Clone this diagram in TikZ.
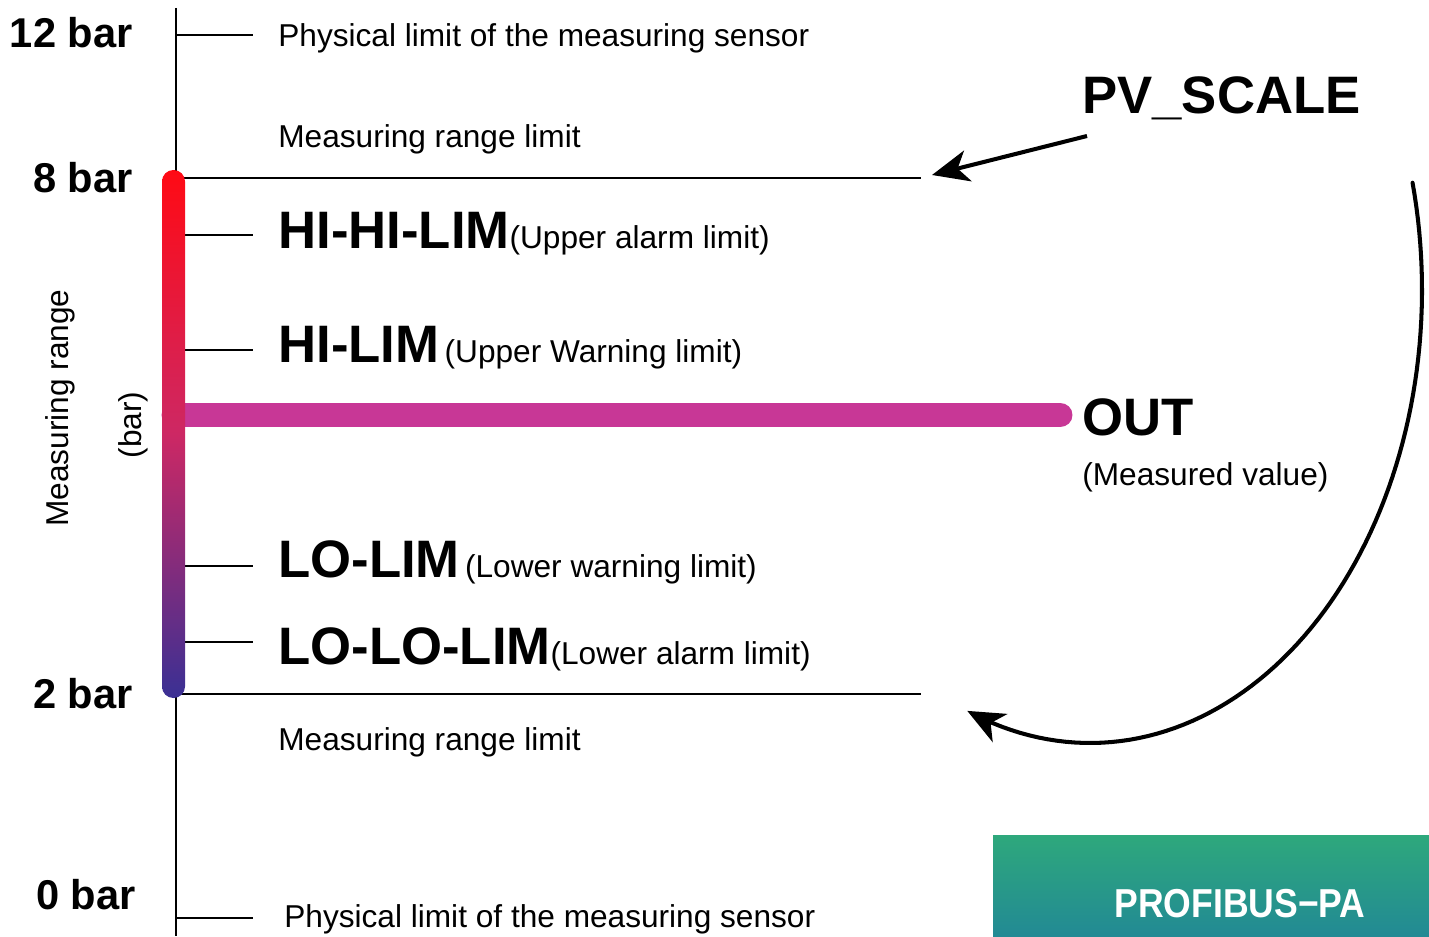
\documentclass[tikz,border=0pt]{standalone}
\usepackage{fontspec}
\setmainfont{Liberation Sans}
\usetikzlibrary{arrows.meta, positioning}
\definecolor{limred}{RGB}{255,10,20}
\definecolor{limmid}{RGB}{205,40,100}
\definecolor{limblue}{RGB}{58,48,148}
\definecolor{outpink}{RGB}{200,55,150}
\definecolor{busgreen}{RGB}{46,168,124}
\definecolor{busteal}{RGB}{34,138,148}
\tikzstyle{arrow} = [line width=2.3pt,-{Stealth[length=21pt,width=18pt,inset=6pt]}]
\tikzstyle{limline} = [line width=1.1pt]
\tikzstyle{barlabel} = [anchor=base east, inner sep=0pt, font=\bfseries\fontsize{23.7}{28}\selectfont]
\tikzstyle{note} = [anchor=base west, inner sep=0pt, font=\fontsize{18}{22}\selectfont]
\tikzstyle{bigname} = [anchor=base west, inner sep=0pt, font=\bfseries\fontsize{30}{36}\selectfont]
\newcommand{\bigbold}[1]{{\bfseries\fontsize{30}{36}\selectfont #1}}

\begin{document}
\begin{tikzpicture}[x=0.02cm, y=-0.02cm]
   \useasboundingbox (0,0) rectangle (1429,936);

   % Draw the axis
   \coordinate (axtop) at (176,8);
   \coordinate (axbot) at (176,936);
   \draw[limline] (axtop) -- (axbot);

   % Pressure values
   \node[barlabel] (bar12) at (133,48) {12 bar};
   \node[barlabel] (bar8) at (133,192) {8 bar};
   \node[barlabel] (bar2) at (133,708) {2 bar};
   \node[barlabel] (bar0) at (136,909) {0 bar};

   % Rotated axis labels
   \node[rotate=90, font=\fontsize{18}{22}\selectfont] (rangelbl) at (60,408) {Measuring range};
   \node[rotate=90, font=\fontsize{18}{22}\selectfont] (unitlbl) at (133,425) {(bar)};

   % Short marks and range limit lines
   \draw[limline] (176,35) -- (253,35);
   \draw[limline] (176,178) -- (921,178);
   \draw[limline] (176,235) -- (253,235);
   \draw[limline] (176,350) -- (253,350);
   \draw[limline] (176,566) -- (253,566);
   \draw[limline] (176,642) -- (253,642);
   \draw[limline] (176,694) -- (921,694);
   \draw[limline] (176,918) -- (253,918);

   % Measured value bar
   \coordinate (outstart) at (174,415);
   \coordinate (outend) at (1060,415);
   \draw[line width=14.2pt, outpink, line cap=round] (outstart) -- (outend);

   % Measuring range bar
   \shade[top color=limred, bottom color=limblue, middle color=limmid, rounded corners=6.5pt] (162,170) rectangle (185,698);

   % Limit texts
   \node[note] (physhi) at (278,47) {Physical limit of the measuring sensor};
   \node[note] (rangehi) at (278,147) {Measuring range limit};
   \node[note] (hihi) at (278,248) {\bigbold{HI-HI-LIM}(Upper alarm limit)};
   \node[note] (hi) at (278,362) {\bigbold{HI-LIM}\,(Upper Warning limit)};
   \node[note] (lo) at (278,577) {\bigbold{LO-LIM}\,(Lower warning limit)};
   \node[note] (lolo) at (278,664) {\bigbold{LO-LO-LIM}(Lower alarm limit)};
   \node[note] (rangelo) at (278,750) {Measuring range limit};
   \node[note] (physlo) at (284,927) {Physical limit of the measuring sensor};

   % Output
   \node[bigname] (out) at (1082,435) {OUT};
   \node[note] (outtxt) at (1082,485) {(Measured value)};

   % Scaling
   \node[bigname] (pvscale) at (1082,113) {PV\_SCALE};
   \coordinate (pvtail) at (1087,136);
   \coordinate (pvtip) at (932,175);
   \draw[arrow] (pvtail) -- (pvtip);
   \draw[arrow, line cap=round] plot[domain=-13.7:111.7, samples=80] ({1090+332*cos(\x)},{290+453*sin(\x)});

   % Bus box
   \shade[top color=busgreen, bottom color=busteal] (993,835) rectangle (1429,936);
   \node[anchor=base, inner sep=0pt, text=white, font=\bfseries\fontsize{23}{27}\selectfont] (bus) at (1240,917) {\scalebox{0.88}[1]{PROFIBUS−PA}};

\end{tikzpicture}
\end{document}
